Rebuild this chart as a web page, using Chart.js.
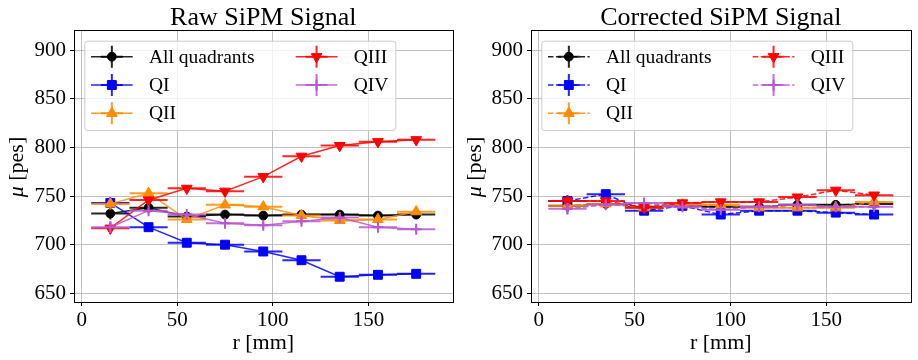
<!DOCTYPE html>
<html>
<head>
<meta charset="utf-8">
<script src="https://cdn.jsdelivr.net/npm/chart.js"></script>
<style>
html,body{margin:0;padding:0;background:#fff;}
#wrap{position:relative;width:918px;height:360px;overflow:hidden;}
canvas{position:absolute;top:0;}
</style>
</head>
<body>
<div id="wrap">
<canvas id="c1" width="460" height="360" style="left:0px"></canvas>
<canvas id="c2" width="458" height="360" style="left:460px"></canvas>
</div>
<script>
// ---------- data ----------
const rValues = [15, 35, 55, 75, 95, 115, 135, 155, 175];
const rErr = [10, 10, 10, 10, 10, 10, 10, 10, 10];
const xTicks = [0, 50, 100, 150];
const yTicks = [650, 700, 750, 800, 850, 900];
const seriesLabels = ['All quadrants', 'QI', 'QII', 'QIII', 'QIV'];

const rawAll  = [732, 738, 729, 731, 730, 731, 731, 730, 731];
const rawQI   = [743, 718, 702, 700, 693, 684, 667, 669, 670];
const rawQII  = [742, 753, 726, 741, 739, 730, 725, 726, 734];
const rawQIII = [717, 746, 758, 755, 770, 791, 802, 806, 808];
const rawQIV  = [718, 735, 731, 722, 720, 724, 728, 718, 716];
const rawYErr = [6, 3, 3, 3, 3, 3, 3, 3, 3];

const corAll  = [740, 742, 739, 740, 739, 739, 741, 741, 742];
const corQI   = [745, 752, 735, 740, 731, 735, 735, 733, 731];
const corQII  = [740, 742, 738, 741, 741, 738, 738, 738, 744];
const corQIII = [745, 745, 738, 743, 744, 744, 749, 756, 751];
const corQIV  = [737, 741, 743, 739, 736, 739, 741, 739, 739];
const corYErr = [6, 3, 3, 3, 3, 3, 3, 3, 3];

// ---------- styles ----------
const SERIF = "'Liberation Serif', 'DejaVu Serif', serif";
const styles = [
  {color: '0,0,0',       point: 'circle',   radius: 4.4, rot: 0,   bw: 1},
  {color: '0,0,255',     point: 'rect',     radius: 6.3, rot: 0,   bw: 1},
  {color: '255,140,0',   point: 'triangle', radius: 6.2, rot: 0,   bw: 1},
  {color: '255,0,0',     point: 'triangle', radius: 6.2, rot: 180, bw: 1},
  {color: '186,85,211',  point: 'cross',    radius: 5.5, rot: 0,   bw: 2}
];

function drawMarker(ctx, st, x, y) {
  ctx.save();
  ctx.fillStyle = 'rgb(' + st.color + ')';
  ctx.strokeStyle = 'rgb(' + st.color + ')';
  ctx.lineWidth = st.bw;
  ctx.setLineDash([]);
  Chart.helpers.drawPoint(ctx, {pointStyle: st.point, radius: st.radius, rotation: st.rot, borderWidth: st.bw}, x, y);
  ctx.restore();
}

const errorBarPlugin = {
  id: 'errbars',
  beforeDatasetDraw(chart, args) {
    const ds = chart.data.datasets[args.index];
    const xs = chart.scales.x, ys = chart.scales.y;
    const ctx = chart.ctx;
    ctx.save();
    ctx.strokeStyle = 'rgba(' + ds.rgb + ',0.85)';
    ctx.lineWidth = 2;
    ctx.setLineDash([]);
    ds.data.forEach((p, i) => {
      const px = xs.getPixelForValue(p.x), py = ys.getPixelForValue(p.y);
      ctx.beginPath();
      ctx.moveTo(xs.getPixelForValue(p.x - ds.xErr[i]), py);
      ctx.lineTo(xs.getPixelForValue(p.x + ds.xErr[i]), py);
      ctx.moveTo(px, ys.getPixelForValue(p.y - ds.yErr[i]));
      ctx.lineTo(px, ys.getPixelForValue(p.y + ds.yErr[i]));
      ctx.stroke();
    });
    ctx.restore();
  }
};

const framePlugin = {
  id: 'frame',
  afterDraw(chart) {
    const a = chart.chartArea, ctx = chart.ctx;
    const opts = chart.options.plugins.frame;
    ctx.save();
    ctx.strokeStyle = '#000';
    ctx.lineWidth = 1;
    ctx.strokeRect(Math.round(a.left) + 0.5, Math.round(a.top) + 0.5,
                   Math.round(a.right - a.left), Math.round(a.bottom - a.top));
    ctx.fillStyle = '#000';
    ctx.font = '26px ' + SERIF;
    ctx.textAlign = 'center';
    ctx.textBaseline = 'alphabetic';
    ctx.fillText(opts.title, (a.left + a.right) / 2, 25);
    // y axis title with italic mu
    ctx.save();
    ctx.translate(opts.yTitleX, (a.top + a.bottom) / 2 + 1);
    ctx.rotate(-Math.PI / 2);
    ctx.textBaseline = 'middle';
    ctx.textAlign = 'left';
    const f1 = 'italic 22px ' + SERIF, f2 = '22px ' + SERIF;
    ctx.font = f1; const w1 = ctx.measureText('μ').width;
    ctx.font = f2; const w2 = ctx.measureText(' [pes]').width;
    const x0 = -(w1 + w2) / 2;
    ctx.font = f1; ctx.fillText('μ', x0, 0);
    ctx.font = f2; ctx.fillText(' [pes]', x0 + w1, 0);
    ctx.restore();
    ctx.restore();
  }
};

const legendPlugin = {
  id: 'mylegend',
  afterDatasetsDraw(chart) {
    const a = chart.chartArea, ctx = chart.ctx;
    const dashed = chart.options.plugins.mylegend.dashed;
    const L = a.left + 10.3, T = a.top + 10.7, W = 311, H = 89.3;
    ctx.save();
    ctx.beginPath();
    if (ctx.roundRect) ctx.roundRect(L + 0.5, T + 0.5, W, H, 3); else ctx.rect(L + 0.5, T + 0.5, W, H);
    ctx.fillStyle = 'rgba(255,255,255,0.8)';
    ctx.fill();
    ctx.strokeStyle = '#cccccc';
    ctx.lineWidth = 1;
    ctx.stroke();
    const pos = [
      [6.7, 16], [6.7, 44.3], [6.7, 72.6], [211.4, 16], [211.4, 44.3]
    ];
    seriesLabels.forEach((lab, i) => {
      const st = styles[i];
      const x0 = L + pos[i][0], x1 = x0 + 41.7, y = T + pos[i][1], xm = (x0 + x1) / 2;
      ctx.strokeStyle = 'rgba(' + st.color + ',0.85)';
      // data line
      ctx.lineWidth = 1.5;
      ctx.setLineDash(dashed ? [5.5, 2.4] : []);
      ctx.beginPath(); ctx.moveTo(x0, y); ctx.lineTo(x1, y); ctx.stroke();
      // error bars
      ctx.setLineDash([]);
      ctx.lineWidth = 2;
      ctx.beginPath();
      ctx.moveTo(xm - 11, y); ctx.lineTo(xm + 11, y);
      ctx.moveTo(xm, y - 11); ctx.lineTo(xm, y + 11);
      ctx.stroke();
      drawMarker(ctx, st, xm, y);
      ctx.fillStyle = '#000';
      ctx.font = '19.5px ' + SERIF;
      ctx.textAlign = 'left';
      ctx.textBaseline = 'middle';
      ctx.fillText(lab, x0 + 58, y + 1);
    });
    ctx.restore();
  }
};

function makeChart(id, title, seriesVals, yErr, dashed, yAxisW, padRight, yTitleX) {
  const datasets = seriesVals.map((vals, i) => {
    const st = styles[i];
    return {
      label: seriesLabels[i],
      data: rValues.map((r, k) => ({x: r, y: vals[k]})),
      xErr: rErr,
      yErr: yErr,
      rgb: st.color,
      order: 4 - i,
      showLine: true,
      borderColor: 'rgba(' + st.color + ',0.85)',
      borderWidth: 1.5,
      borderDash: dashed ? [5.5, 2.4] : [],
      backgroundColor: 'rgb(' + st.color + ')',
      pointStyle: st.point,
      pointRadius: st.radius,
      pointRotation: st.rot,
      pointBorderWidth: st.bw,
      pointBorderColor: 'rgb(' + st.color + ')',
      pointBackgroundColor: 'rgb(' + st.color + ')',
      fill: false,
      tension: 0
    };
  });
  return new Chart(document.getElementById(id), {
    type: 'scatter',
    data: {datasets},
    options: {
      responsive: false,
      animation: false,
      devicePixelRatio: 1,
      layout: {padding: {top: 30, right: padRight, left: 0, bottom: 0}},
      plugins: {
        legend: {display: false},
        tooltip: {enabled: false},
        frame: {title: title, yTitleX: yTitleX},
        mylegend: {dashed: dashed}
      },
      scales: {
        x: {
          type: 'linear', min: -4, max: 194,
          afterBuildTicks: ax => { ax.ticks = xTicks.map(v => ({value: v})); },
          afterFit: ax => { ax.height = 58; },
          ticks: {color: '#000', font: {family: SERIF, size: 21}, padding: 2, autoSkip: false, maxRotation: 0,
                  callback: v => String(v)},
          grid: {color: '#b0b0b0', lineWidth: 0.8, tickLength: 4, tickColor: '#000', tickWidth: 1},
          border: {display: true, color: '#000', width: 1},
          title: {display: true, text: 'r [mm]', color: '#000', font: {family: SERIF, size: 22}, padding: {top: 0, bottom: 4}}
        },
        y: {
          type: 'linear', min: 641, max: 921,
          afterBuildTicks: ax => { ax.ticks = yTicks.map(v => ({value: v})); },
          afterFit: ax => { ax.width = yAxisW; },
          ticks: {color: '#000', font: {family: SERIF, size: 21}, padding: 4, autoSkip: false,
                  callback: v => String(v)},
          grid: {color: '#b0b0b0', lineWidth: 0.8, tickLength: 4, tickColor: '#000', tickWidth: 1},
          border: {display: true, color: '#000', width: 1},
          title: {display: false}
        }
      }
    },
    plugins: [errorBarPlugin, legendPlugin, framePlugin]
  });
}

makeChart('c1', 'Raw SiPM Signal', [rawAll, rawQI, rawQII, rawQIII, rawQIV], rawYErr, false, 74, 5, 17.5);
makeChart('c2', 'Corrected SiPM Signal', [corAll, corQI, corQII, corQIII, corQIV], corYErr, true, 71, 7, 15);
</script>
</body>
</html>
